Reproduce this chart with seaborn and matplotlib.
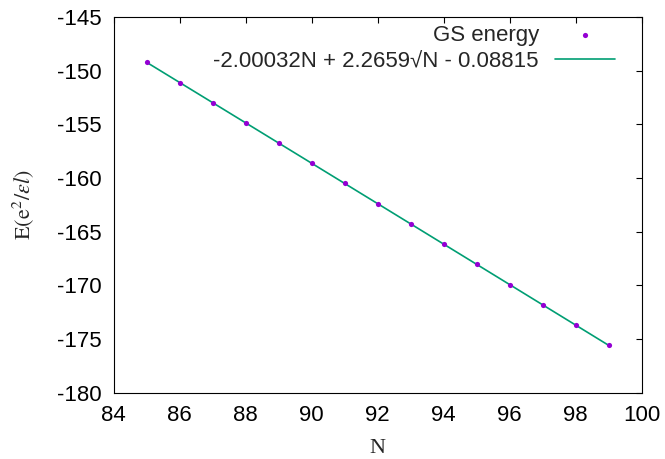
import matplotlib
matplotlib.use("Agg")
import matplotlib.pyplot as plt
import seaborn as sns
import pandas as pd

# GS energies
n_values = [85, 86, 87, 88, 89, 90, 91, 92, 93, 94, 95, 96, 97, 98, 99]
gs_energy = [-149.225, -151.103, -152.981, -154.860, -156.740, -158.621, -160.502,
             -162.384, -164.266, -166.150, -168.033, -169.918, -171.803, -173.688,
             -175.574]
fit_label = "-2.00032N + 2.2659\u221aN - 0.08815"

df = pd.DataFrame({"N": n_values, "E": gs_energy})

sns.set_style("white")
plt.rcParams["font.family"] = ["Liberation Sans", "DejaVu Sans"]
plt.rcParams["axes.unicode_minus"] = False
plt.rcParams["mathtext.fontset"] = "stix"

fig = plt.figure(figsize=(6.65, 4.59), dpi=100)
ax = fig.add_axes([0.171, 0.144, 0.794, 0.819])

sns.scatterplot(data=df, x="N", y="E", color="#9400d3", s=14, linewidth=0,
                label="GS energy", ax=ax, zorder=3)
sns.lineplot(data=df, x="N", y="E", color="#009e73", linewidth=1.2,
             label=fit_label, ax=ax)

ax.set_xlim(84, 100)
ax.set_ylim(-180, -145)
ax.set_xticks(range(84, 101, 2))
ax.set_yticks(range(-180, -144, 5))
ax.tick_params(direction="in", top=True, right=True, length=4.5, width=0.8,
               labelsize=16, colors="black")
ax.tick_params(axis="y", pad=9)
ax.tick_params(axis="x", pad=9)
for s in ax.spines.values():
    s.set_color("black")
    s.set_linewidth(0.8)

ax.set_xlabel("N", family="Liberation Serif", fontsize=16)
ax.xaxis.set_label_coords(0.5, -0.148)
ax.xaxis.label.set_va("center")
ax.set_ylabel(r"$\mathrm{E(e^2/}\varepsilon l\mathrm{)}$", fontsize=16)
ax.yaxis.set_label_coords(-0.172, 0.5)
ax.yaxis.label.set_va("center")

leg = ax.legend(loc="upper right", bbox_to_anchor=(0.949, 0.978),
                frameon=False, fontsize=16, markerfirst=False,
                handlelength=2.7, borderaxespad=0, borderpad=0,
                labelspacing=0.22, handletextpad=0.72)

fig.savefig("out.png", dpi=100)
